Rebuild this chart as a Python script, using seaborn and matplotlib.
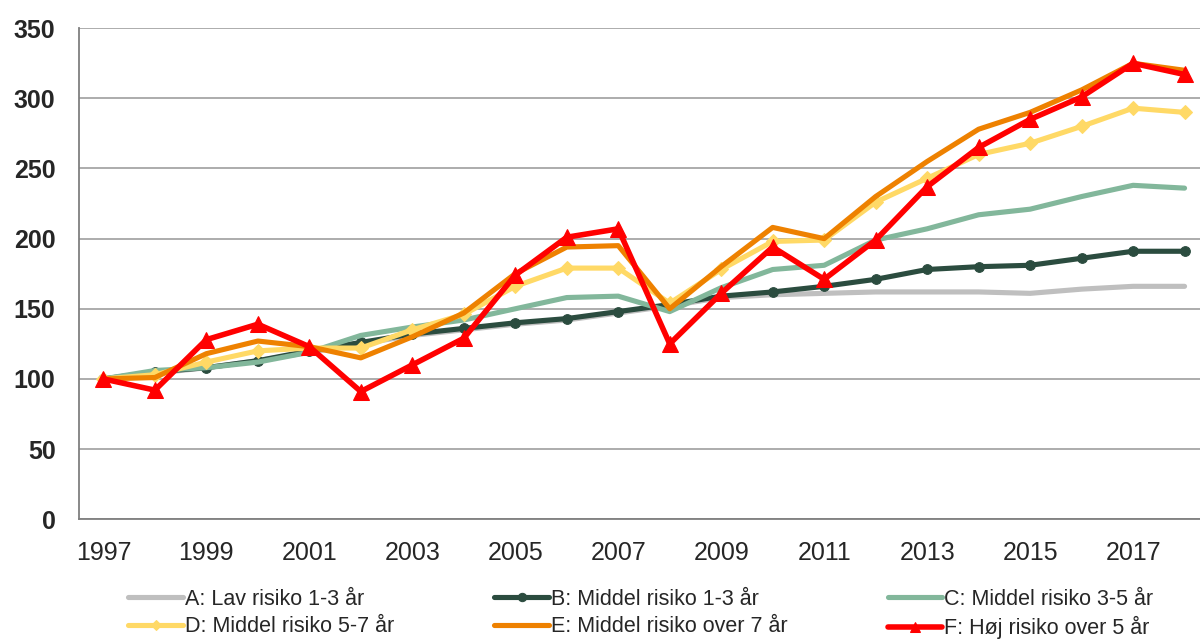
import pandas as pd
import numpy as np
import matplotlib.pyplot as plt
import seaborn as sns

# --- Data (index, 1997 = 100) ---
years = list(range(1997, 2019))

a_lav_1_3 = [100, 104, 108, 113, 119, 125, 131, 135, 139, 142, 147, 152, 158,
             160, 161, 162, 162, 162, 161, 164, 166, 166]
b_middel_1_3 = [100, 105, 108, 113, 120, 126, 132, 136, 140, 143, 148, 153, 159,
                162, 166, 171, 178, 180, 181, 186, 191, 191]
c_middel_3_5 = [100, 106, 108, 112, 119, 131, 137, 142, 150, 158, 159, 148, 165,
                178, 181, 199, 207, 217, 221, 230, 238, 236]
d_middel_5_7 = [100, 103, 112, 120, 122, 122, 135, 146, 166, 179, 179, 154, 178,
                198, 199, 226, 243, 260, 268, 280, 293, 290]
e_middel_over7 = [100, 101, 118, 127, 123, 115, 130, 147, 175, 194, 195, 150, 180,
                  208, 200, 230, 255, 278, 290, 306, 325, 320]
f_hoj_over5 = [100, 92, 128, 139, 123, 91, 110, 129, 174, 201, 207, 125, 161,
               194, 171, 199, 237, 265, 285, 301, 325, 317]

labels = ["A: Lav risiko 1-3 år", "B: Middel risiko 1-3 år", "C: Middel risiko 3-5 år",
          "D: Middel risiko 5-7 år", "E: Middel risiko over 7 år", "F: Høj risiko over 5 år"]
series = [a_lav_1_3, b_middel_1_3, c_middel_3_5, d_middel_5_7, e_middel_over7, f_hoj_over5]
colors = ["#BFBFBF", "#2B4C3F", "#82B79B", "#FFD966", "#EE8100", "#FF0000"]
markers = [None, "o", None, "D", None, "^"]
msizes = [0, 7, 0, 7, 0, 11]
legend_msizes = [0, 6, 0, 5, 0, 7]
lwidths = [3.7, 3.7, 3.7, 3.7, 3.7, 4.0]

sns.set_style("white")
plt.rcParams['font.family'] = ['Liberation Sans', 'DejaVu Sans']

fig = plt.figure(figsize=(12, 6.41), dpi=100)
ax = fig.add_axes([0.066, 0.19, 0.934, 0.766])

handles = []
for i, (lab, vals) in enumerate(zip(labels, series)):
    df = pd.DataFrame({"year": years, "value": vals})
    sns.lineplot(data=df, x="year", y="value", ax=ax, color=colors[i],
                 linewidth=lwidths[i], marker=markers[i], markersize=msizes[i],
                 markeredgecolor=colors[i], label=lab, zorder=3 + i, legend=False)
    handles.append(ax.lines[-1])

ax.set_xlim(1996.53, 2018.3)
ax.set_ylim(0, 350)
ax.set_yticks(np.arange(0, 351, 50))
ax.set_xticks(years[::2])
ax.set_xlabel("")
ax.set_ylabel("")

ax.yaxis.grid(True, color="#A6A6A6", linewidth=1.3)
ax.xaxis.grid(False)
ax.set_axisbelow(True)
for side in ["top", "right"]:
    ax.spines[side].set_visible(False)
for side in ["left", "bottom"]:
    ax.spines[side].set_color("#7F7F7F")
    ax.spines[side].set_linewidth(1.3)

ax.tick_params(axis="y", length=0, pad=17, labelsize=18)
ax.tick_params(axis="x", length=0, pad=16, labelsize=18)
for t in ax.get_yticklabels():
    t.set_fontweight("bold")

# legend row-wise: A B C / D E F
order = [0, 3, 1, 4, 2, 5]
leg = fig.legend([handles[k] for k in order], [labels[k] for k in order],
                 loc="center", bbox_to_anchor=(0.534, 0.042), ncol=3, frameon=False,
                 fontsize=15.5, handlelength=2.55, handletextpad=0.08, columnspacing=4.65,
                 labelspacing=0.3, numpoints=1, borderaxespad=0)
for h, k in zip(leg.legend_handles, order):
    h.set_markersize(legend_msizes[k])

fig.savefig("out.png", dpi=100)
